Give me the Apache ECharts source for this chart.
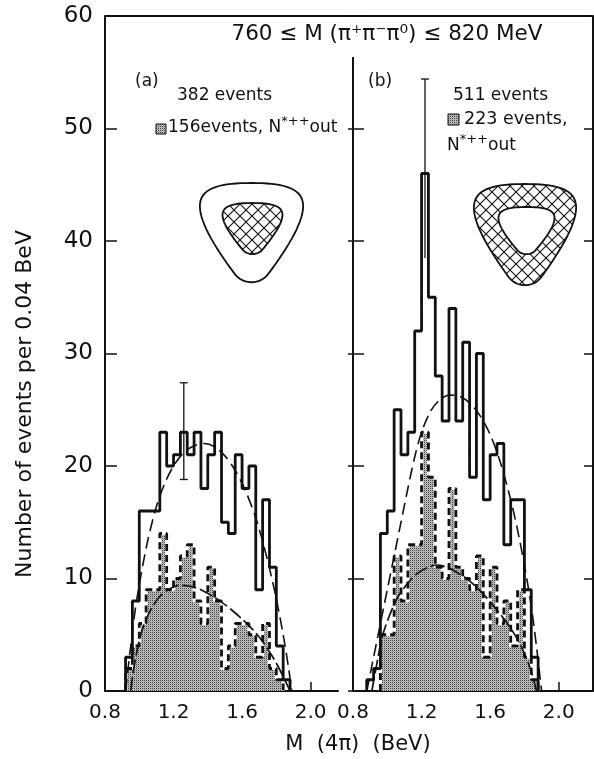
<!DOCTYPE html>
<html>
<head>
<meta charset="utf-8">
<script src="https://cdn.jsdelivr.net/npm/echarts@6/dist/echarts.min.js"></script>
<style>
  html, body { margin: 0; padding: 0; background: #fff; }
  #chart { width: 594px; height: 759px; }
</style>
</head>
<body>
<div id="chart"></div>
<script>
// ---------------------------------------------------------------- data
const binWidth = 0.04;

// (a) 382 events, shaded = 156 events with N*++ out
const outerStartA = 0.92;
const outerA = [3, 8, 16, 16, 16, 23, 20, 21, 23, 21, 23, 18, 21, 23, 15, 14, 21, 18, 20, 9, 17, 11, 4, 1];
const shadedStartA = 0.92;
const shadedA = [2, 4, 6, 9, 9, 14, 9, 10, 12, 13, 8, 6, 11, 8, 2, 4, 6, 6, 5, 3, 6, 2, 1];

// (b) 511 events, shaded = 223 events with N*++ out
const outerStartB = 0.88;
const outerB = [1, 2, 14, 16, 25, 21, 23, 32, 46, 35, 28, 24, 34, 24, 31, 19, 30, 17, 21, 22, 13, 17, 17, 9, 3];
const shadedStartB = 0.96;
const shadedB = [5, 5, 12, 8, 13, 13, 23, 19, 11, 10, 18, 11, 10, 9, 12, 3, 11, 6, 8, 4, 9, 3, 1];

// dashed curves
const fitAllA = [[0.92,0],[0.95,4],[0.98,7.6],[1.01,10.3],[1.05,13.4],[1.10,16.4],[1.15,18.5],[1.20,20],[1.26,21.2],[1.32,21.8],[1.38,22],[1.44,21.7],[1.50,20.9],[1.56,19.6],[1.62,17.8],[1.68,15.4],[1.72,13.3],[1.76,10.9],[1.80,8.2],[1.84,5],[1.87,2.2],[1.89,0]];
const fitOutA = [[0.95,0],[0.97,2.2],[1.00,4.5],[1.03,6.0],[1.07,7.3],[1.12,8.4],[1.18,9.1],[1.24,9.4],[1.30,9.3],[1.36,9.0],[1.42,8.5],[1.48,7.9],[1.54,7.2],[1.60,6.4],[1.66,5.5],[1.72,4.4],[1.78,3.0],[1.83,1.6],[1.88,0]];
const fitAllB = [[0.88,0],[0.92,3],[0.96,6],[1.00,9],[1.04,12],[1.08,15],[1.12,18],[1.16,20.8],[1.20,23],[1.25,24.8],[1.30,25.8],[1.36,26.3],[1.42,26.2],[1.48,25.6],[1.54,24.5],[1.60,22.8],[1.66,20.3],[1.72,17],[1.76,14.3],[1.80,11.2],[1.84,7.5],[1.87,4],[1.90,0]];
const fitOutB = [[0.91,0],[0.94,2.5],[0.97,4.8],[1.01,6.6],[1.06,8.3],[1.12,9.6],[1.18,10.5],[1.24,11.0],[1.29,11.2],[1.35,11.0],[1.41,10.5],[1.47,9.9],[1.53,9.1],[1.59,8.1],[1.65,7.0],[1.71,5.8],[1.77,4.3],[1.82,2.6],[1.85,1.2],[1.87,0]];

// error bars: [x, low, high]
const errA = [[1.26, 18.8, 27.4]];
const errB = [[1.22, 38.5, 54.4]];

// axes
const xTickValues = [1.0, 1.2, 1.4, 1.6, 1.8, 2.0];
const xLabelValues = [0.8, 1.2, 1.6, 2.0];

// ---------------------------------------------------------------- layout
const FONT = "'DejaVu Sans', sans-serif";
const INK = '#111';
const TOP = 16, BOTTOM_Y = 691;
const DIVIDER_TOP = 57;   // the middle line stops under the title
const gridA = { left: 105, top: TOP, width: 233, height: BOTTOM_Y - TOP };
const gridB = { left: 353, top: TOP, width: 240, height: BOTTOM_Y - TOP };

// stippled grey used for the N*++ out events
function makeStipple() {
    const c = document.createElement('canvas');
    c.width = 2; c.height = 2;
    const g = c.getContext('2d');
    g.fillStyle = '#c4c4c4'; g.fillRect(0, 0, 2, 2);
    g.fillStyle = '#3c3c3c'; g.fillRect(0, 0, 1, 1);
    g.fillStyle = '#a4a4a4'; g.fillRect(1, 1, 1, 1);
    return c;
}
// cross hatch for the dalitz-plot sketches
function makeHatch() {
    const c = document.createElement('canvas');
    c.width = 12; c.height = 12;
    const g = c.getContext('2d');
    g.fillStyle = '#fff'; g.fillRect(0, 0, 12, 12);
    g.strokeStyle = INK; g.lineWidth = 1.1;
    g.beginPath();
    g.moveTo(0, 0); g.lineTo(12, 12);
    g.moveTo(12, 0); g.lineTo(0, 12);
    g.stroke();
    return c;
}
const stipple = { image: makeStipple(), repeat: 'repeat' };
const hatch = { image: makeHatch(), repeat: 'repeat' };

// histogram outline as step points
function steps(start, counts) {
    const pts = [[start, 0]];
    counts.forEach((c, i) => {
        const x0 = +(start + i * binWidth).toFixed(3);
        pts.push([x0, c], [+(x0 + binWidth).toFixed(3), c]);
    });
    pts.push([+(start + counts.length * binWidth).toFixed(3), 0]);
    return pts;
}

// rounded inverted triangle in a box, as polygon points (sampled beziers)
const BLOB = [
    [[0.5, 0], [0.78, 0], [0.97, 0.04], [0.99, 0.2]],
    [[0.99, 0.2], [1.01, 0.36], [0.86, 0.62], [0.66, 0.9]],
    [[0.66, 0.9], [0.58, 1.01], [0.42, 1.01], [0.34, 0.9]],
    [[0.34, 0.9], [0.14, 0.62], [-0.01, 0.36], [0.01, 0.2]],
    [[0.01, 0.2], [0.03, 0.04], [0.22, 0], [0.5, 0]]
];
function blob(x0, y0, w, h) {
    const pts = [];
    BLOB.forEach(seg => {
        for (let i = 0; i < 16; i++) {
            const t = i / 16, s = 1 - t;
            const a = s * s * s, b = 3 * s * s * t, c = 3 * s * t * t, d = t * t * t;
            const u = a * seg[0][0] + b * seg[1][0] + c * seg[2][0] + d * seg[3][0];
            const v = a * seg[0][1] + b * seg[1][1] + c * seg[2][1] + d * seg[3][1];
            pts.push([x0 + u * w, y0 + v * h]);
        }
    });
    return pts;
}

function errorBar(capBottom) {
    return function (params, api) {
        const top = api.coord([api.value(0), api.value(2)]);
        const bot = api.coord([api.value(0), api.value(1)]);
        const cap = 4;
        const style = { stroke: INK, lineWidth: 1.3 };
        const kids = [
            { type: 'line', shape: { x1: top[0], y1: top[1], x2: bot[0], y2: bot[1] }, style },
            { type: 'line', shape: { x1: top[0] - cap, y1: top[1], x2: top[0] + cap, y2: top[1] }, style }
        ];
        if (capBottom) {
            kids.push({ type: 'line', shape: { x1: bot[0] - cap, y1: bot[1], x2: bot[0] + cap, y2: bot[1] }, style });
        }
        return { type: 'group', children: kids };
    };
}

function panelSeries(xi, yi, outerStart, outer, shadedStart, shaded, fitAll, fitOut, err, capBottom) {
    const shadedPts = steps(shadedStart, shaded);
    const base = { type: 'line', xAxisIndex: xi, yAxisIndex: yi, symbol: 'none', silent: true };
    return [
        Object.assign({}, base, {
            data: shadedPts, z: 2,
            areaStyle: { color: stipple, opacity: 1 },
            lineStyle: { color: '#fff', width: 3.2 }
        }),
        Object.assign({}, base, {
            data: shadedPts, z: 3,
            lineStyle: { color: INK, width: 2.8, type: [7, 4] }
        }),
        Object.assign({}, base, {
            data: steps(outerStart, outer), z: 4,
            lineStyle: { color: INK, width: 2.8 }
        }),
        Object.assign({}, base, {
            data: fitAll, z: 5, smooth: 0.3,
            lineStyle: { color: INK, width: 1.6, type: [12, 6] }
        }),
        Object.assign({}, base, {
            data: fitOut, z: 5, smooth: 0.3,
            lineStyle: { color: INK, width: 1.7, type: [14, 4] }
        }),
        {
            type: 'custom', xAxisIndex: xi, yAxisIndex: yi, z: 6, silent: true,
            renderItem: errorBar(capBottom), data: err
        }
    ];
}

function xAxisFor(gi, max) {
    return {
        type: 'value', gridIndex: gi, min: 0.8, max: max,
        axisLine: { lineStyle: { color: INK, width: 2 } },
        axisTick: { inside: true, length: 9, customValues: xTickValues, lineStyle: { color: INK, width: 1.5 } },
        axisLabel: {
            customValues: xLabelValues, margin: 12, color: INK, fontSize: 20, fontFamily: FONT,
            formatter: v => v.toFixed(1)
        },
        splitLine: { show: false }
    };
}
function yAxisFor(gi, opt) {
    return Object.assign({
        type: 'value', gridIndex: gi, min: 0, max: 60, interval: 10,
        axisLine: { show: true, lineStyle: { color: INK, width: 2 } },
        axisTick: { show: true, inside: true, length: 11, lineStyle: { color: INK, width: 1.5 } },
        axisLabel: { show: false },
        splitLine: { show: false }
    }, opt);
}

function txt(x, y, text, size, extra) {
    return {
        type: 'text', x: x, y: y, silent: true,
        style: Object.assign({
            text: text, font: size + 'px ' + FONT, fill: INK,
            align: 'left', verticalAlign: 'middle'
        }, extra || {})
    };
}
const supRich = {
    b: { fontSize: 17, fontFamily: FONT, color: INK, lineHeight: 26 },
    s: { fontSize: 13, fontFamily: FONT, color: INK, lineHeight: 10, verticalAlign: 'top' }
};

// ---------------------------------------------------------------- chart
const chart = echarts.init(document.getElementById('chart'), null, { renderer: 'canvas' });

const yName = txt(25, 404, 'Number of events per 0.04 BeV', 22, { align: 'center' });
yName.rotation = Math.PI / 2;

const option = {
    backgroundColor: '#fff',
    animation: false,
    grid: [gridA, gridB],
    xAxis: [xAxisFor(0, 2.16), xAxisFor(1, 2.2)],
    yAxis: [
        yAxisFor(0, {
            position: 'left',
            axisTick: { show: true, inside: true, length: 12, lineStyle: { color: INK, width: 1.5 } },
            axisLabel: { show: true, margin: 12, color: INK, fontSize: 23, fontFamily: FONT }
        }),
        // middle divider: ticks only, its line is drawn below the title as a graphic
        yAxisFor(1, { position: 'left', axisLine: { show: false } }),
        yAxisFor(1, {
            position: 'left', axisLine: { show: false },
            axisTick: { show: true, inside: false, length: 5, lineStyle: { color: INK, width: 1.5 } }
        }),
        yAxisFor(1, {
            position: 'right',
            axisTick: { show: true, inside: true, length: 9, lineStyle: { color: INK, width: 1.5 } }
        })
    ],
    series: [].concat(
        panelSeries(0, 0, outerStartA, outerA, shadedStartA, shadedA, fitAllA, fitOutA, errA, true),
        panelSeries(1, 1, outerStartB, outerB, shadedStartB, shadedB, fitAllB, fitOutB, errB, false)
    ),
    graphic: [
        // top edge of the frame, across both panels
        { type: 'line', silent: true, shape: { x1: gridA.left, y1: TOP, x2: gridB.left + gridB.width, y2: TOP },
          style: { stroke: INK, lineWidth: 2 } },
        { type: 'line', silent: true, shape: { x1: gridB.left, y1: DIVIDER_TOP, x2: gridB.left, y2: BOTTOM_Y },
          style: { stroke: INK, lineWidth: 2 } },

        txt(387, 34, '760 ≤ M (π⁺π⁻π⁰) ≤ 820 MeV', 21.5, { align: 'center' }),

        // panel (a) notes
        txt(135, 82, '(a)', 17),
        txt(177, 96, '382 events', 17),
        { type: 'rect', silent: true, shape: { x: 156, y: 124, width: 10, height: 10 },
          style: { fill: stipple, stroke: INK, lineWidth: 1 } },
        txt(168, 128, '{b|156events, N}{s|*++}{b|out}', 17, { rich: supRich }),
        { type: 'polygon', silent: true, shape: { points: blob(199, 183, 105, 101) },
          style: { fill: '#fff', stroke: INK, lineWidth: 1.8 } },
        { type: 'polygon', silent: true, shape: { points: blob(222, 203, 61, 52) },
          style: { fill: hatch, stroke: INK, lineWidth: 1.8 } },

        // panel (b) notes
        txt(368, 82, '(b)', 17),
        txt(453, 96, '511 events', 17),
        { type: 'rect', silent: true, shape: { x: 448, y: 114, width: 11, height: 11 },
          style: { fill: stipple, stroke: INK, lineWidth: 1 } },
        txt(464, 119, '223 events,', 17.5),
        txt(447, 146, '{b|N}{s|*++}{b|out}', 17, { rich: supRich }),
        { type: 'polygon', silent: true, shape: { points: blob(473, 184, 104, 103) },
          style: { fill: hatch, stroke: INK, lineWidth: 1.8 } },
        { type: 'polygon', silent: true, shape: { points: blob(498, 207, 57, 48) },
          style: { fill: '#fff', stroke: INK, lineWidth: 1.8 } },

        // axis names
        yName,
        txt(358, 745, 'M  (4π)  (BeV)', 21, { align: 'center' })
    ]
};

chart.setOption(option);
</script>
</body>
</html>
